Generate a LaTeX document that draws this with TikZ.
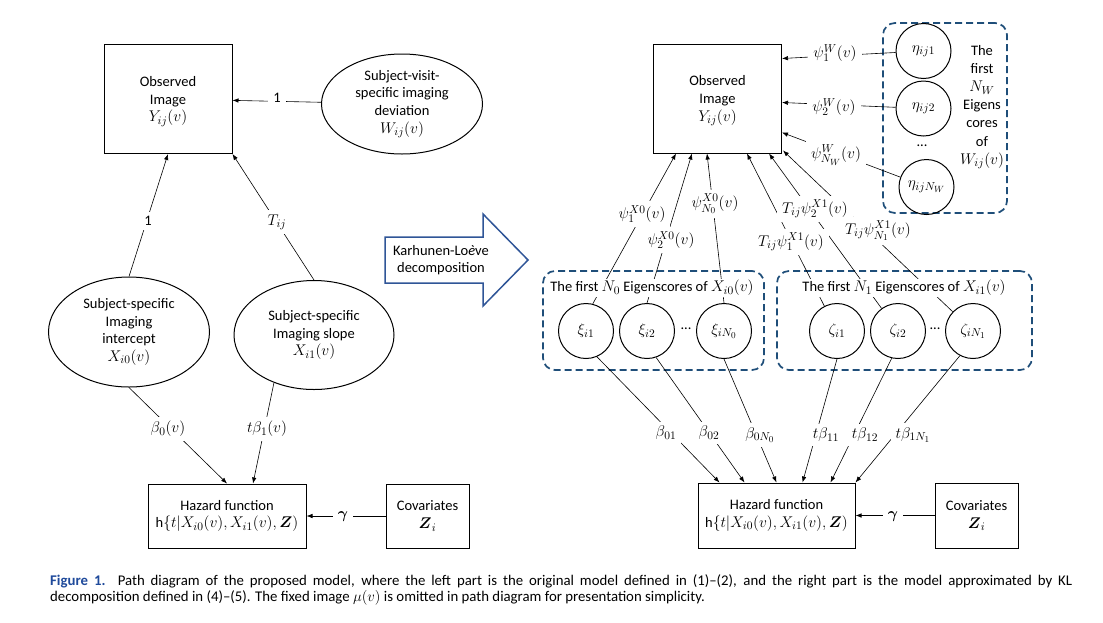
\RequirePackage{fix-cm}
\documentclass[tikz,border=0pt]{standalone}
\usepackage{amsmath}
\usepackage{fontspec}
\setmainfont{Carlito}
\usepackage{xcolor}
\usepackage{tikz}
\usetikzlibrary{arrows.meta,positioning,fit,calc,shapes.geometric}

\DeclareMathSizes{14.5}{15.5}{11.5}{9}
\definecolor{klblue}{HTML}{2F5597}
\definecolor{grpblue}{HTML}{1F4E79}
\definecolor{capblue}{HTML}{1F4A9B}

\begin{document}
\begin{tikzpicture}[x=1pt,y=-1pt,
    every node/.style={font=\fontsize{14.5}{17.7}\selectfont},
    box/.style={draw=black,line width=1pt,align=center,inner sep=0pt},
    latent/.style={ellipse,draw=black,line width=1pt,align=center,inner sep=0pt},
    score/.style={circle,draw=black,line width=1pt,minimum size=55pt,inner sep=0pt},
    group/.style={draw=grpblue,line width=1.7pt,dash pattern=on 7pt off 4pt,
      rounded corners=12pt,inner sep=0pt},
    flow/.style={-{Latex[length=6pt,width=4.5pt]},line width=0.6pt},
    coef/.style={fill=white,inner xsep=5pt,inner ysep=4pt},
    head/.style={fill=white,inner sep=1pt}
  ]
    \useasboundingbox (0,0) rectangle (1103,622);

    \node[box,minimum width=128pt,minimum height=109pt,text depth=0pt] (obs) at (168,99)
      {Observed\\Image\\$Y_{ij}(v)$};
    \node[latent,minimum width=161pt,minimum height=100pt] (dev) at (402,104)
      {Subject-visit-\\specific imaging\\deviation\\$W_{ij}(v)$};
    \node[latent,minimum width=161pt,minimum height=110pt] (icpt) at (129,332)
      {Subject-specific\\Imaging\\intercept\\$X_{i0}(v)$};
    \node[latent,minimum width=160pt,minimum height=109pt] (slope) at (314,335)
      {Subject-specific\\Imaging slope\\$X_{i1}(v)$};
    \node[box,minimum width=158pt,minimum height=64pt] (haz) at (227,516)
      {Hazard function\\h$\{t|X_{i0}(v),X_{i1}(v),\boldsymbol{Z})$};
    \node[box,minimum width=83pt,minimum height=64pt] (cov) at (427.5,516)
      {Covariates\\$\boldsymbol{Z}_i$};

    \draw[flow] (dev) -- (obs);
    \draw[flow] (icpt.north) -- (obs.south);
    \draw[flow] (slope.north) -- (obs.south east);
    \draw[flow] (icpt.south) -- (haz.north);
    \draw[flow] (slope.230) -- ($(haz.north)+(26,0)$);
    \draw[flow] (cov) -- (haz);
    \node[coef] (l1) at (277,98) {1};
    \node[coef] (l2) at (148,221) {1};
    \node[coef] (l3) at (277,222) {$T_{ij}$};
    \node[coef] (l4) at (168,429) {$\beta_0(v)$};
    \node[coef] (l5) at (267,429) {$t\beta_1(v)$};
    \node[coef] (l6) at (343,517) {$\boldsymbol{\gamma}$};

    \draw[klblue,line width=1.5pt,line join=miter]
      (385,237) -- (483,237) -- (483,214) -- (528,260) -- (483,306) -- (483,283) -- (385,283) -- cycle;
    \node[align=center] (kl) at (441,260) {Karhunen-Lo\textit{è}ve\\decomposition};

    \node[box,minimum width=128pt,minimum height=109pt,text depth=0pt] (obsk) at (717.5,98.5)
      {Observed\\Image\\$Y_{ij}(v)$};
    \node[group,minimum width=124pt,minimum height=190pt] (wgrp) at (945,118) {};
    \node[score] (eta1) at (923.5,51) {$\eta_{ij1}$};
    \node[score] (eta2) at (923.5,108.5) {$\eta_{ij2}$};
    \node (wdots) at (922,146) {...};
    \node[score] (etan) at (926.5,187) {$\eta_{ijN_W}$};
    \node[align=center,font=\fontsize{14.5}{18.2}\selectfont] (wtxt) at (982,107)
      {The\\first\\$N_W$\\Eigens\\cores\\of\\$W_{ij}(v)$};

    \node[group,minimum width=221pt,minimum height=99pt] (xgrp) at (653.5,320.5) {};
    \node[group,minimum width=255pt,minimum height=99pt] (zgrp) at (904.5,320.5) {};
    \node[score] (xi1) at (586,331) {$\xi_{i1}$};
    \node[score] (xi2) at (647,331) {$\xi_{i2}$};
    \node (xdots) at (686,329) {...};
    \node[score] (xin) at (724,331) {$\xi_{iN_0}$};
    \node[score] (zeta1) at (837,331) {$\zeta_{i1}$};
    \node[score] (zeta2) at (898,331) {$\zeta_{i2}$};
    \node (zdots) at (935,329) {...};
    \node[score] (zetan) at (973,331) {$\zeta_{iN_1}$};

    \node[box,minimum width=157pt,minimum height=65pt] (hazk) at (776.5,515.5)
      {Hazard function\\h$\{t|X_{i0}(v),X_{i1}(v),\boldsymbol{Z})$};
    \node[box,minimum width=83pt,minimum height=65pt] (covk) at (976.5,515.5)
      {Covariates\\$\boldsymbol{Z}_i$};

    \draw[flow] (eta1) -- ($(obsk.east)+(0,-40)$);
    \draw[flow] (eta2) -- ($(obsk.east)+(0,4)$);
    \draw[flow] (etan) -- ($(obsk.east)+(0,34)$);

    \draw[flow] (xi1.76) -- ($(obsk.south west)+(23,0)$);
    \draw[flow] (xi2.north) -- ($(obsk.south west)+(39,0)$);
    \draw[flow] (xin.north) -- ($(obsk.south west)+(54,0)$);
    \draw[flow] (zeta1) -- ($(obsk.south west)+(94,0)$);
    \draw[flow] (zeta2) -- ($(obsk.south west)+(116,0)$);
    \draw[flow] (zetan) -- ($(obsk.south east)+(1,-3)$);

    \draw[flow] (xi1.-67) -- ($(hazk.north west)+(22,0)$);
    \draw[flow] (xi2.-71) -- ($(hazk.north west)+(47,0)$);
    \draw[flow] (xin.south) -- ($(hazk.north west)+(79,0)$);
    \draw[flow] (zeta1.south) -- ($(hazk.north west)+(105,0)$);
    \draw[flow] (zeta2.-103) -- ($(hazk.north west)+(133,0)$);
    \draw[flow] (zetan.-118) -- (hazk.north east);
    \draw[flow] (covk) -- (hazk);

    \node[coef] (w1) at (835,53) {$\psi_1^W(v)$};
    \node[coef] (w2) at (834,107) {$\psi_2^W(v)$};
    \node[coef] (wn) at (836,155) {$\psi_{N_W}^W(v)$};
    \node[coef] (p1) at (642,214) {$\psi_1^{X0}(v)$};
    \node[coef] (p2) at (671,240) {$\psi_2^{X0}(v)$};
    \node[coef] (pn) at (715,204) {$\psi_{N_0}^{X0}(v)$};
    \node[coef] (q1) at (791,242) {$T_{ij}\psi_1^{X1}(v)$};
    \node[coef] (q2) at (815,209) {$T_{ij}\psi_2^{X1}(v)$};
    \node[coef] (qn) at (878,231) {$T_{ij}\psi_{N_1}^{X1}(v)$};
    \node[coef] (b1) at (666,433) {$\beta_{01}$};
    \node[coef] (b2) at (709,433) {$\beta_{02}$};
    \node[coef] (bn) at (760,435) {$\beta_{0N_0}$};
    \node[coef] (c1) at (826,435) {$t\beta_{11}$};
    \node[coef] (c2) at (865,435) {$t\beta_{12}$};
    \node[coef] (cn) at (913,435) {$t\beta_{1N_1}$};
    \node[coef] (g2) at (893,517) {$\boldsymbol{\gamma}$};

    \node[head] (xhead) at (652,288) {The first $N_0$ Eigenscores of $X_{i0}(v)$};
    \node[head] (zhead) at (904,288) {The first $N_1$ Eigenscores of $X_{i1}(v)$};

    \node[anchor=north west,text width=1022pt,align=justify,inner sep=0pt,
      font=\fontsize{14.8}{16}\selectfont] (cap) at (50,574)
      {\textcolor{capblue}{\textbf{Figure 1.}} Path diagram of the proposed model, where the left part is the original model defined in (1)–(2), and the right part is the model approximated by KL\linebreak
      decomposition defined in (4)–(5). The fixed image $\mu(v)$ is omitted in path diagram for presentation simplicity.};
\end{tikzpicture}
\end{document}
